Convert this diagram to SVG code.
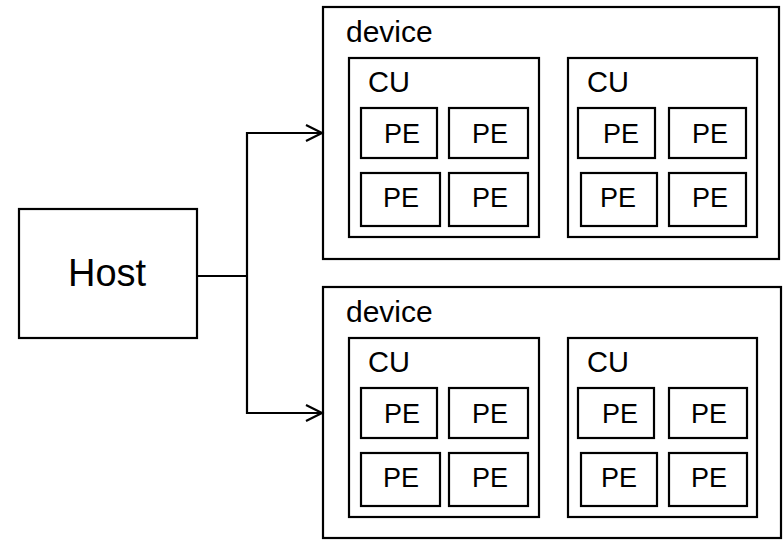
<svg xmlns="http://www.w3.org/2000/svg" width="784" height="540" viewBox="0 0 784 540">
<style>
.box{fill:#fff;stroke:#000;stroke-width:2.2}
.t{font-family:"Liberation Sans",Arial,sans-serif;fill:#000}
.dev{font-size:30px}
.cu{font-size:29px}
.pe{font-size:27px}
.host{font-size:38px}
.con{fill:none;stroke:#000;stroke-width:2.2}
</style>
<defs>
<marker id="arr" markerWidth="20" markerHeight="20" refX="17" refY="9" orient="auto" markerUnits="userSpaceOnUse">
<path d="M1,1 L17,9 L1,17" fill="none" stroke="#000" stroke-width="2.2"/>
</marker>
</defs>
<rect width="784" height="540" fill="#fff"/>
<g id="host">
<rect class="box" x="19" y="209" width="178" height="129"/>
<text class="t host" x="68" y="286">Host</text>
</g>
<g id="device1">
<rect class="box" x="323" y="7" width="456" height="252"/>
<text class="t dev" x="346" y="42">device</text>
<g id="device1-cu1">
<rect class="box" x="349" y="58" width="190" height="179"/>
<text class="t cu" x="368" y="92">CU</text>
<rect class="box" x="361" y="108" width="76" height="50"/><text class="t pe" x="384" y="143">PE</text>
<rect class="box" x="449" y="108" width="79" height="50"/><text class="t pe" x="472" y="143">PE</text>
<rect class="box" x="361" y="173" width="79" height="53"/><text class="t pe" x="383" y="207">PE</text>
<rect class="box" x="449" y="173" width="79" height="53"/><text class="t pe" x="472" y="207">PE</text>
</g>
<g id="device1-cu2">
<rect class="box" x="568" y="58" width="189" height="179"/>
<text class="t cu" x="587" y="92">CU</text>
<rect class="box" x="578" y="108" width="77" height="50"/><text class="t pe" x="603" y="143">PE</text>
<rect class="box" x="669" y="108" width="77" height="50"/><text class="t pe" x="692" y="143">PE</text>
<rect class="box" x="581" y="173" width="76" height="53"/><text class="t pe" x="600" y="207">PE</text>
<rect class="box" x="669" y="173" width="77" height="53"/><text class="t pe" x="692" y="207">PE</text>
</g>
</g>
<g id="device2">
<rect class="box" x="323" y="287" width="458" height="251"/>
<text class="t dev" x="346" y="322">device</text>
<g id="device2-cu1">
<rect class="box" x="349" y="338" width="190" height="179"/>
<text class="t cu" x="368" y="372">CU</text>
<rect class="box" x="361" y="388" width="76" height="50"/><text class="t pe" x="384" y="423">PE</text>
<rect class="box" x="449" y="388" width="79" height="50"/><text class="t pe" x="472" y="423">PE</text>
<rect class="box" x="361" y="453" width="79" height="53"/><text class="t pe" x="383" y="487">PE</text>
<rect class="box" x="449" y="453" width="79" height="53"/><text class="t pe" x="472" y="487">PE</text>
</g>
<g id="device2-cu2">
<rect class="box" x="568" y="338" width="189" height="179"/>
<text class="t cu" x="587" y="372">CU</text>
<rect class="box" x="578" y="388" width="76" height="50"/><text class="t pe" x="602" y="423">PE</text>
<rect class="box" x="669" y="388" width="78" height="50"/><text class="t pe" x="691" y="423">PE</text>
<rect class="box" x="581" y="453" width="76" height="53"/><text class="t pe" x="601" y="487">PE</text>
<rect class="box" x="669" y="453" width="78" height="53"/><text class="t pe" x="691" y="487">PE</text>
</g>
</g>
<g id="connectors">
<path class="con" d="M197,276 H247"/>
<path class="con" d="M247,276 V133 H322" marker-end="url(#arr)"/>
<path class="con" d="M247,276 V413 H322" marker-end="url(#arr)"/>
</g>
</svg>
